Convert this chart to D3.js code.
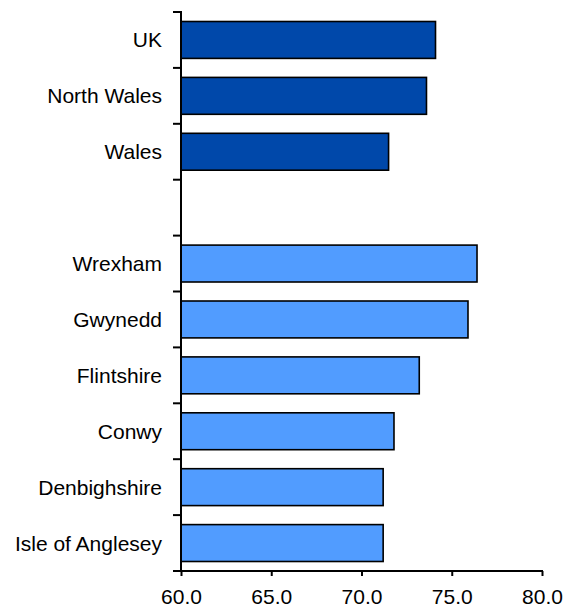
<!DOCTYPE html>
<html>
<head>
<meta charset="utf-8">
<script src="https://cdn.jsdelivr.net/npm/d3@7"></script>
<style>
  html, body { margin: 0; padding: 0; background: #fff; }
  svg text { font-family: "Liberation Sans", Arial, sans-serif; fill: #000; }
</style>
</head>
<body>
<svg id="chart" width="565" height="608"></svg>
<script>
// ── Data ─────────────────────────────────────────────────────────────────
const categories = ['UK', 'North Wales', 'Wales', ' ', 'Wrexham', 'Gwynedd',
                    'Flintshire', 'Conwy', 'Denbighshire', 'Isle of Anglesey'];
const values     = [74.1, 73.6, 71.5, null, 76.4, 75.9, 73.2, 71.8, 71.2, 71.2];
const groups     = ['summary', 'summary', 'summary', null,
                    'area', 'area', 'area', 'area', 'area', 'area'];
const xTicks     = [60, 65, 70, 75, 80];

const COLORS = { summary: '#0048AA', area: '#519CFF' };

const svg = d3.select('#chart');
const M = { top: 12, right: 23, bottom: 37, left: 181 };
const W = 565, H = 608;

const x = d3.scaleLinear()
  .domain([60, 80])
  .range([M.left, W - M.right]);

const y = d3.scaleBand()
  .domain(categories)
  .range([M.top, H - M.bottom])
  .paddingInner(0.34)
  .paddingOuter(0.17);

const rows = categories.map((c, i) => ({ cat: c, value: values[i], group: groups[i] }));

// ── Bars ─────────────────────────────────────────────────────────────────
svg.append('g')
  .selectAll('rect')
  .data(rows.filter(d => d.value != null))
  .join('rect')
    .attr('x', x(60))
    .attr('y', d => y(d.cat))
    .attr('width', d => x(d.value) - x(60))
    .attr('height', y.bandwidth())
    .attr('fill', d => COLORS[d.group])
    .attr('stroke', '#000')
    .attr('stroke-width', 1.6);

// ── Category labels ──────────────────────────────────────────────────────
svg.append('g')
  .selectAll('text')
  .data(rows.filter(d => d.value != null))
  .join('text')
    .attr('x', M.left - 19)
    .attr('y', d => y(d.cat) + y.bandwidth() / 2 + 7.5)
    .attr('text-anchor', 'end')
    .attr('font-size', 21)
    .text(d => d.cat);

// ── Y axis: line + ticks at category boundaries ──────────────────────────
const step = y.step();
const y0 = y(categories[0]) - step * y.paddingInner() / 2;
const bounds = d3.range(categories.length + 1).map(i => y0 + i * step);

const yAx = svg.append('g').attr('stroke', '#000').attr('stroke-width', 2);
yAx.append('line')
  .attr('x1', M.left).attr('x2', M.left)
  .attr('y1', bounds[0] - 1).attr('y2', bounds[bounds.length - 1] + 1);
yAx.selectAll('line.tick')
  .data(bounds)
  .join('line')
    .attr('class', 'tick')
    .attr('x1', M.left - 8).attr('x2', M.left)
    .attr('y1', d => d).attr('y2', d => d);

// ── X axis ───────────────────────────────────────────────────────────────
svg.append('g')
  .attr('transform', `translate(0,${bounds[bounds.length - 1]})`)
  .call(d3.axisBottom(x).tickValues(xTicks).tickFormat(d3.format('.1f')).tickSize(5).tickPadding(13))
  .call(g => g.select('.domain').attr('stroke', '#000').attr('stroke-width', 2)
    .attr('d', `M${x(60)},0H${x(80) + 1}`))
  .call(g => g.selectAll('.tick line').attr('stroke', '#000').attr('stroke-width', 2))
  .call(g => g.selectAll('.tick text')
    .attr('font-size', 21)
    .attr('font-family', '"Liberation Sans", Arial, sans-serif')
    .attr('fill', '#000'));
</script>
</body>
</html>
